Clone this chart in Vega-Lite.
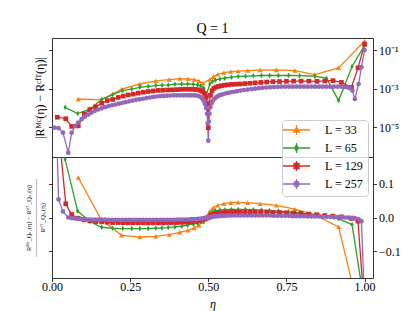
{
"$schema": "https://vega.github.io/schema/vega-lite/v6.json",
"background": "white",
"padding": {"left": 24, "top": 21, "right": 5, "bottom": 5},
"config": {
 "font": "Liberation Serif",
 "view": {"stroke": "#333", "strokeWidth": 1},
 "axis": {"domain": false, "grid": false, "tickColor": "#000", "tickWidth": 0.8, "tickSize": 3.5, "labelFontSize": 12, "labelColor": "#000", "labelFont": "Liberation Serif", "titleFont": "Liberation Serif", "titleFontWeight": "normal", "titleColor": "#000"},
 "legend": {"orient": "none", "legendX": 230, "legendY": 82, "title": null, "fillColor": "rgba(255,255,255,0.8)", "strokeColor": "#cccccc", "cornerRadius": 3, "padding": 4, "symbolSize": 100, "symbolStrokeWidth": 1.3, "symbolOpacity": 1, "labelFont": "Liberation Serif", "labelFontSize": 12, "labelColor": "#000", "labelOffset": 27, "rowPadding": 2}
},
"datasets": {"d": [
{"L":"L = 33","e":0.084,"a":2.9e-4,"r":0.119},
{"L":"L = 33","e":0.157,"a":2.6e-4,"r":-0.006},
{"L":"L = 33","e":0.223,"a":9.5e-4,"r":-0.053},
{"L":"L = 33","e":0.281,"a":1.74e-3,"r":-0.058},
{"L":"L = 33","e":0.332,"a":2.5e-3,"r":-0.056},
{"L":"L = 33","e":0.375,"a":2.95e-3,"r":-0.051},
{"L":"L = 33","e":0.409,"a":3.3e-3,"r":-0.044},
{"L":"L = 33","e":0.435,"a":3.2e-3,"r":-0.038},
{"L":"L = 33","e":0.455,"a":2.95e-3,"r":-0.031},
{"L":"L = 33","e":0.470,"a":2.5e-3,"r":-0.023},
{"L":"L = 33","e":0.483,"a":1.9e-3,"r":-0.013},
{"L":"L = 33","e":0.505,"a":3.0e-3,"r":0.019},
{"L":"L = 33","e":0.516,"a":4.1e-3,"r":0.029},
{"L":"L = 33","e":0.530,"a":5.5e-3,"r":0.036},
{"L":"L = 33","e":0.550,"a":6.8e-3,"r":0.041},
{"L":"L = 33","e":0.572,"a":7.6e-3,"r":0.044},
{"L":"L = 33","e":0.595,"a":8.1e-3,"r":0.045},
{"L":"L = 33","e":0.626,"a":8.7e-3,"r":0.044},
{"L":"L = 33","e":0.666,"a":9.2e-3,"r":0.041},
{"L":"L = 33","e":0.718,"a":9.3e-3,"r":0.036},
{"L":"L = 33","e":0.777,"a":8.7e-3,"r":0.025},
{"L":"L = 33","e":0.841,"a":5.4e-3,"r":0.008},
{"L":"L = 33","e":0.917,"a":0.012,"r":-0.028},
{"L":"L = 33","e":1.0,"a":0.295,"r":-0.35},
{"L":"L = 65","e":0.042,"a":1.07e-4,"r":0.173},
{"L":"L = 65","e":0.082,"a":5.1e-5,"r":0.019},
{"L":"L = 65","e":0.121,"a":8.7e-5,"r":-0.012},
{"L":"L = 65","e":0.159,"a":2.7e-4,"r":-0.029},
{"L":"L = 65","e":0.194,"a":4.9e-4,"r":-0.032},
{"L":"L = 65","e":0.226,"a":7.9e-4,"r":-0.033},
{"L":"L = 65","e":0.255,"a":9.5e-4,"r":-0.033},
{"L":"L = 65","e":0.281,"a":1.17e-3,"r":-0.033},
{"L":"L = 65","e":0.308,"a":1.32e-3,"r":-0.033},
{"L":"L = 65","e":0.332,"a":1.45e-3,"r":-0.032},
{"L":"L = 65","e":0.352,"a":1.51e-3,"r":-0.031},
{"L":"L = 65","e":0.372,"a":1.55e-3,"r":-0.030},
{"L":"L = 65","e":0.393,"a":1.7e-3,"r":-0.028},
{"L":"L = 65","e":0.415,"a":1.74e-3,"r":-0.026},
{"L":"L = 65","e":0.434,"a":1.74e-3,"r":-0.023},
{"L":"L = 65","e":0.452,"a":1.7e-3,"r":-0.020},
{"L":"L = 65","e":0.466,"a":1.55e-3,"r":-0.017},
{"L":"L = 65","e":0.476,"a":1.38e-3,"r":-0.013},
{"L":"L = 65","e":0.486,"a":1.05e-3,"r":-0.009},
{"L":"L = 65","e":0.494,"a":5.0e-4,"r":-0.004},
{"L":"L = 65","e":0.505,"a":1.74e-3,"r":0.012},
{"L":"L = 65","e":0.514,"a":2.34e-3,"r":0.017},
{"L":"L = 65","e":0.523,"a":2.8e-3,"r":0.020},
{"L":"L = 65","e":0.537,"a":3.2e-3,"r":0.022},
{"L":"L = 65","e":0.553,"a":3.5e-3,"r":0.023},
{"L":"L = 65","e":0.574,"a":3.9e-3,"r":0.024},
{"L":"L = 65","e":0.596,"a":4.3e-3,"r":0.024},
{"L":"L = 65","e":0.619,"a":4.4e-3,"r":0.024},
{"L":"L = 65","e":0.644,"a":4.6e-3,"r":0.023},
{"L":"L = 65","e":0.670,"a":4.8e-3,"r":0.022},
{"L":"L = 65","e":0.696,"a":4.8e-3,"r":0.021},
{"L":"L = 65","e":0.724,"a":4.8e-3,"r":0.019},
{"L":"L = 65","e":0.757,"a":4.8e-3,"r":0.017},
{"L":"L = 65","e":0.792,"a":4.7e-3,"r":0.014},
{"L":"L = 65","e":0.841,"a":4.4e-3,"r":0.008},
{"L":"L = 65","e":0.878,"a":3.5e-3,"r":0.003},
{"L":"L = 65","e":0.917,"a":2.4e-4,"r":-0.004},
{"L":"L = 65","e":0.960,"a":0.014,"r":-0.021},
{"L":"L = 65","e":1.0,"a":0.176,"r":-0.26},
{"L":"L = 129","e":0.017,"a":3.3e-5,"r":0.30},
{"L":"L = 129","e":0.044,"a":2.75e-5,"r":0.041},
{"L":"L = 129","e":0.063,"a":1.1e-5,"r":0.009},
{"L":"L = 129","e":0.084,"a":1.17e-5,"r":-0.002},
{"L":"L = 129","e":0.103,"a":4.8e-5,"r":-0.007},
{"L":"L = 129","e":0.121,"a":8.1e-5,"r":-0.010},
{"L":"L = 129","e":0.140,"a":1.15e-4,"r":-0.012},
{"L":"L = 129","e":0.159,"a":1.74e-4,"r":-0.013},
{"L":"L = 129","e":0.177,"a":2.4e-4,"r":-0.014},
{"L":"L = 129","e":0.194,"a":2.75e-4,"r":-0.015},
{"L":"L = 129","e":0.212,"a":3.5e-4,"r":-0.015},
{"L":"L = 129","e":0.228,"a":4.1e-4,"r":-0.016},
{"L":"L = 129","e":0.244,"a":4.7e-4,"r":-0.016},
{"L":"L = 129","e":0.260,"a":5.2e-4,"r":-0.016},
{"L":"L = 129","e":0.276,"a":5.9e-4,"r":-0.016},
{"L":"L = 129","e":0.292,"a":6.5e-4,"r":-0.016},
{"L":"L = 129","e":0.308,"a":7.1e-4,"r":-0.016},
{"L":"L = 129","e":0.324,"a":7.6e-4,"r":-0.016},
{"L":"L = 129","e":0.340,"a":8.1e-4,"r":-0.016},
{"L":"L = 129","e":0.355,"a":8.3e-4,"r":-0.016},
{"L":"L = 129","e":0.370,"a":8.5e-4,"r":-0.015},
{"L":"L = 129","e":0.385,"a":8.7e-4,"r":-0.015},
{"L":"L = 129","e":0.399,"a":8.9e-4,"r":-0.015},
{"L":"L = 129","e":0.412,"a":9.1e-4,"r":-0.014},
{"L":"L = 129","e":0.425,"a":9.3e-4,"r":-0.014},
{"L":"L = 129","e":0.437,"a":9.3e-4,"r":-0.013},
{"L":"L = 129","e":0.448,"a":9.3e-4,"r":-0.012},
{"L":"L = 129","e":0.458,"a":9.1e-4,"r":-0.011},
{"L":"L = 129","e":0.467,"a":8.7e-4,"r":-0.010},
{"L":"L = 129","e":0.475,"a":8.1e-4,"r":-0.008},
{"L":"L = 129","e":0.482,"a":7.1e-4,"r":-0.007},
{"L":"L = 129","e":0.488,"a":5.6e-4,"r":-0.005},
{"L":"L = 129","e":0.493,"a":3.5e-4,"r":-0.003},
{"L":"L = 129","e":0.497,"a":1.6e-4,"r":-0.001},
{"L":"L = 129","e":0.500,"a":9.5e-6,"r":0.0},
{"L":"L = 129","e":0.503,"a":1.8e-4,"r":0.002},
{"L":"L = 129","e":0.507,"a":4.5e-4,"r":0.005},
{"L":"L = 129","e":0.512,"a":7.9e-4,"r":0.008},
{"L":"L = 129","e":0.518,"a":1.05e-3,"r":0.010},
{"L":"L = 129","e":0.525,"a":1.2e-3,"r":0.012},
{"L":"L = 129","e":0.533,"a":1.32e-3,"r":0.013},
{"L":"L = 129","e":0.542,"a":1.41e-3,"r":0.014},
{"L":"L = 129","e":0.552,"a":1.51e-3,"r":0.015},
{"L":"L = 129","e":0.563,"a":1.58e-3,"r":0.015},
{"L":"L = 129","e":0.575,"a":1.66e-3,"r":0.016},
{"L":"L = 129","e":0.588,"a":1.7e-3,"r":0.016},
{"L":"L = 129","e":0.602,"a":1.74e-3,"r":0.016},
{"L":"L = 129","e":0.617,"a":1.82e-3,"r":0.016},
{"L":"L = 129","e":0.633,"a":1.9e-3,"r":0.016},
{"L":"L = 129","e":0.650,"a":2.0e-3,"r":0.016},
{"L":"L = 129","e":0.668,"a":2.1e-3,"r":0.016},
{"L":"L = 129","e":0.687,"a":2.2e-3,"r":0.016},
{"L":"L = 129","e":0.707,"a":2.3e-3,"r":0.015},
{"L":"L = 129","e":0.728,"a":2.34e-3,"r":0.015},
{"L":"L = 129","e":0.750,"a":2.4e-3,"r":0.014},
{"L":"L = 129","e":0.773,"a":2.45e-3,"r":0.013},
{"L":"L = 129","e":0.797,"a":2.45e-3,"r":0.012},
{"L":"L = 129","e":0.822,"a":2.45e-3,"r":0.010},
{"L":"L = 129","e":0.848,"a":2.4e-3,"r":0.008},
{"L":"L = 129","e":0.873,"a":2.5e-3,"r":0.006},
{"L":"L = 129","e":0.899,"a":2.6e-3,"r":0.004},
{"L":"L = 129","e":0.926,"a":2.1e-3,"r":0.002},
{"L":"L = 129","e":0.958,"a":1.17e-3,"r":-0.003},
{"L":"L = 129","e":0.979,"a":0.012,"r":-0.011},
{"L":"L = 129","e":1.0,"a":0.2,"r":-0.28},
{"L":"L = 257","e":0.008,"a":9.5e-6,"r":0.5},
{"L":"L = 257","e":0.021,"a":8.9e-6,"r":0.054},
{"L":"L = 257","e":0.035,"a":5.2e-6,"r":0.018},
{"L":"L = 257","e":0.052,"a":4.8e-7,"r":0.0},
{"L":"L = 257","e":0.063,"a":5.2e-6,"r":-0.002},
{"L":"L = 257","e":0.074,"a":1.17e-5,"r":-0.003},
{"L":"L = 257","e":0.084,"a":1.74e-5,"r":-0.004},
{"L":"L = 257","e":0.095,"a":2.6e-5,"r":-0.005},
{"L":"L = 257","e":0.105,"a":3.5e-5,"r":-0.005},
{"L":"L = 257","e":0.116,"a":4.5e-5,"r":-0.006},
{"L":"L = 257","e":0.126,"a":5.6e-5,"r":-0.006},
{"L":"L = 257","e":0.137,"a":7.1e-5,"r":-0.006},
{"L":"L = 257","e":0.148,"a":8.3e-5,"r":-0.006},
{"L":"L = 257","e":0.159,"a":9.5e-5,"r":-0.006},
{"L":"L = 257","e":0.170,"a":1.1e-4,"r":-0.006},
{"L":"L = 257","e":0.181,"a":1.23e-4,"r":-0.007},
{"L":"L = 257","e":0.192,"a":1.38e-4,"r":-0.007},
{"L":"L = 257","e":0.203,"a":1.51e-4,"r":-0.007},
{"L":"L = 257","e":0.214,"a":1.66e-4,"r":-0.007},
{"L":"L = 257","e":0.225,"a":1.82e-4,"r":-0.007},
{"L":"L = 257","e":0.236,"a":2.0e-4,"r":-0.007},
{"L":"L = 257","e":0.247,"a":2.2e-4,"r":-0.007},
{"L":"L = 257","e":0.258,"a":2.4e-4,"r":-0.007},
{"L":"L = 257","e":0.269,"a":2.63e-4,"r":-0.007},
{"L":"L = 257","e":0.280,"a":2.8e-4,"r":-0.007},
{"L":"L = 257","e":0.291,"a":3.0e-4,"r":-0.007},
{"L":"L = 257","e":0.302,"a":3.24e-4,"r":-0.007},
{"L":"L = 257","e":0.313,"a":3.47e-4,"r":-0.007},
{"L":"L = 257","e":0.324,"a":3.7e-4,"r":-0.007},
{"L":"L = 257","e":0.335,"a":3.9e-4,"r":-0.007},
{"L":"L = 257","e":0.346,"a":4.1e-4,"r":-0.007},
{"L":"L = 257","e":0.357,"a":4.2e-4,"r":-0.007},
{"L":"L = 257","e":0.368,"a":4.3e-4,"r":-0.007},
{"L":"L = 257","e":0.379,"a":4.4e-4,"r":-0.007},
{"L":"L = 257","e":0.390,"a":4.5e-4,"r":-0.007},
{"L":"L = 257","e":0.400,"a":4.5e-4,"r":-0.006},
{"L":"L = 257","e":0.410,"a":4.5e-4,"r":-0.006},
{"L":"L = 257","e":0.420,"a":4.5e-4,"r":-0.006},
{"L":"L = 257","e":0.429,"a":4.5e-4,"r":-0.006},
{"L":"L = 257","e":0.438,"a":4.5e-4,"r":-0.006},
{"L":"L = 257","e":0.446,"a":4.5e-4,"r":-0.005},
{"L":"L = 257","e":0.454,"a":4.5e-4,"r":-0.005},
{"L":"L = 257","e":0.461,"a":4.4e-4,"r":-0.005},
{"L":"L = 257","e":0.468,"a":4.2e-4,"r":-0.004},
{"L":"L = 257","e":0.474,"a":3.8e-4,"r":-0.004},
{"L":"L = 257","e":0.480,"a":3.2e-4,"r":-0.003},
{"L":"L = 257","e":0.485,"a":2.4e-4,"r":-0.002},
{"L":"L = 257","e":0.489,"a":1.66e-4,"r":-0.002},
{"L":"L = 257","e":0.493,"a":1.0e-4,"r":-0.001},
{"L":"L = 257","e":0.496,"a":5.0e-5,"r":-0.001},
{"L":"L = 257","e":0.498,"a":1.6e-5,"r":0.0},
{"L":"L = 257","e":0.500,"a":2.0e-6,"r":0.0},
{"L":"L = 257","e":0.502,"a":2.0e-5,"r":0.0},
{"L":"L = 257","e":0.504,"a":5.0e-5,"r":0.001},
{"L":"L = 257","e":0.507,"a":1.12e-4,"r":0.001},
{"L":"L = 257","e":0.511,"a":1.78e-4,"r":0.002},
{"L":"L = 257","e":0.515,"a":2.4e-4,"r":0.003},
{"L":"L = 257","e":0.520,"a":3.0e-4,"r":0.003},
{"L":"L = 257","e":0.526,"a":3.6e-4,"r":0.004},
{"L":"L = 257","e":0.532,"a":4.2e-4,"r":0.004},
{"L":"L = 257","e":0.539,"a":4.7e-4,"r":0.005},
{"L":"L = 257","e":0.546,"a":5.1e-4,"r":0.005},
{"L":"L = 257","e":0.554,"a":5.6e-4,"r":0.005},
{"L":"L = 257","e":0.563,"a":6.0e-4,"r":0.006},
{"L":"L = 257","e":0.572,"a":6.5e-4,"r":0.006},
{"L":"L = 257","e":0.582,"a":6.9e-4,"r":0.006},
{"L":"L = 257","e":0.592,"a":7.4e-4,"r":0.006},
{"L":"L = 257","e":0.603,"a":7.9e-4,"r":0.006},
{"L":"L = 257","e":0.614,"a":8.5e-4,"r":0.006},
{"L":"L = 257","e":0.626,"a":8.9e-4,"r":0.006},
{"L":"L = 257","e":0.638,"a":9.5e-4,"r":0.006},
{"L":"L = 257","e":0.650,"a":1.0e-3,"r":0.006},
{"L":"L = 257","e":0.662,"a":1.05e-3,"r":0.006},
{"L":"L = 257","e":0.674,"a":1.1e-3,"r":0.006},
{"L":"L = 257","e":0.686,"a":1.15e-3,"r":0.006},
{"L":"L = 257","e":0.698,"a":1.17e-3,"r":0.006},
{"L":"L = 257","e":0.710,"a":1.2e-3,"r":0.005},
{"L":"L = 257","e":0.722,"a":1.23e-3,"r":0.005},
{"L":"L = 257","e":0.734,"a":1.26e-3,"r":0.005},
{"L":"L = 257","e":0.746,"a":1.26e-3,"r":0.005},
{"L":"L = 257","e":0.758,"a":1.26e-3,"r":0.005},
{"L":"L = 257","e":0.770,"a":1.26e-3,"r":0.004},
{"L":"L = 257","e":0.782,"a":1.26e-3,"r":0.004},
{"L":"L = 257","e":0.794,"a":1.26e-3,"r":0.004},
{"L":"L = 257","e":0.806,"a":1.26e-3,"r":0.004},
{"L":"L = 257","e":0.818,"a":1.26e-3,"r":0.003},
{"L":"L = 257","e":0.830,"a":1.26e-3,"r":0.003},
{"L":"L = 257","e":0.842,"a":1.26e-3,"r":0.003},
{"L":"L = 257","e":0.854,"a":1.26e-3,"r":0.003},
{"L":"L = 257","e":0.866,"a":1.26e-3,"r":0.002},
{"L":"L = 257","e":0.878,"a":1.26e-3,"r":0.002},
{"L":"L = 257","e":0.890,"a":1.26e-3,"r":0.002},
{"L":"L = 257","e":0.902,"a":1.26e-3,"r":0.001},
{"L":"L = 257","e":0.914,"a":1.26e-3,"r":0.001},
{"L":"L = 257","e":0.926,"a":1.26e-3,"r":0.001},
{"L":"L = 257","e":0.937,"a":1.23e-3,"r":0.0},
{"L":"L = 257","e":0.947,"a":1.15e-3,"r":0.0},
{"L":"L = 257","e":0.953,"a":1.07e-3,"r":-0.001},
{"L":"L = 257","e":0.961,"a":7.9e-4,"r":-0.001},
{"L":"L = 257","e":0.969,"a":2.9e-4,"r":-0.002},
{"L":"L = 257","e":0.981,"a":1.74e-3,"r":-0.005},
{"L":"L = 257","e":0.990,"a":0.013,"r":-0.011},
{"L":"L = 257","e":1.0,"a":0.1,"r":-0.25}
]},
"data": {"name": "d"},
"spacing": 0,
"bounds": "flush",
"resolve": {"scale": {"x": "shared", "y": "independent", "color": "shared", "shape": "shared"}},
"vconcat": [
 {
  "width": 321, "height": 119,
  "title": {"text": "Q = 1", "frame": "group", "anchor": "middle", "fontSize": 14, "fontWeight": "normal", "font": "Liberation Serif", "offset": 2, "color": "#000"},
  "encoding": {
   "x": {"field": "e", "type": "quantitative", "scale": {"domain": [0, 1.027], "nice": false, "zero": false}, "axis": null},
   "y": {"field": "a", "type": "quantitative", "scale": {"type": "log", "domain": [2.85e-7, 0.423], "nice": false}}
  },
  "layer": [
   {"mark": {"type": "line", "strokeWidth": 1.3, "clip": true},
    "encoding": {
     "y": {"field": "a", "type": "quantitative", "axis": {"orient": "left", "values": [1e-5, 1e-3, 1e-1], "labels": false, "title": "|Rᴹᶜ(η) − Rᶜᶠᵀ(η)|", "titleFontSize": 12, "titlePadding": 2}},
     "color": {"field": "L", "type": "nominal", "scale": {"domain": ["L = 33", "L = 65", "L = 129", "L = 257"], "range": ["#ff7f0e", "#2ca02c", "#d62728", "#9467bd"]}}
    }
   },
   {"transform": [{"filter": "datum.L == 'L = 33'"}],
    "mark": {"type": "point", "filled": true, "shape": "triangle-up", "color": "#ff7f0e", "size": 26, "opacity": 1, "clip": true},
    "encoding": {"y": {"field": "a", "type": "quantitative", "axis": {"orient": "right", "values": [1e-5, 1e-3, 1e-1], "title": null, "labelPadding": 2, "labelExpr": "datum.value > 0.01 ? '10⁻¹' : datum.value > 0.0001 ? '10⁻³' : '10⁻⁵'"}}}
   },
   {"transform": [{"filter": "datum.L == 'L = 65'"}],
    "mark": {"type": "point", "filled": true, "shape": "M0,-1L0.6,0L0,1L-0.6,0Z", "color": "#2ca02c", "size": 30, "opacity": 1, "clip": true},
    "encoding": {"y": {"field": "a", "type": "quantitative", "axis": null}}
   },
   {"transform": [{"filter": "datum.L == 'L = 129'"}],
    "mark": {"type": "point", "filled": true, "shape": "square", "color": "#d62728", "size": 22, "opacity": 1, "clip": true},
    "encoding": {"y": {"field": "a", "type": "quantitative", "axis": null}}
   },
   {"transform": [{"filter": "datum.L == 'L = 257'"}],
    "mark": {"type": "point", "filled": true, "shape": "circle", "color": "#9467bd", "size": 22, "opacity": 1, "clip": true},
    "encoding": {"y": {"field": "a", "type": "quantitative", "axis": null}}
   },
   {"mark": {"type": "point", "filled": false, "strokeWidth": 1.3, "opacity": 0, "size": 1, "clip": true},
    "encoding": {
     "y": {"field": "a", "type": "quantitative", "axis": null},
     "color": {"field": "L", "type": "nominal"},
     "shape": {"field": "L", "type": "nominal", "scale": {"domain": ["L = 33", "L = 65", "L = 129", "L = 257"], "range": [
       "M-1.8,0H3.6M0.9,-1V1M0.9,-0.55L1.45,0.4L0.35,0.4ZM0.9,-0.2L1.15,0.25L0.65,0.25Z",
       "M-1.8,0H3.6M0.9,-1V1M0.9,-0.65L1.25,0L0.9,0.65L0.55,0Z",
       "M-1.8,0H3.6M0.9,-1V1M0.4,-0.5H1.4V0.5H0.4ZM0.7,-0.2H1.1V0.2H0.7Z",
       "M-1.8,0H3.6M0.9,-1V1M1.4,0A0.5,0.5 0 1,1 0.4,0A0.5,0.5 0 1,1 1.4,0ZM1.1,0A0.2,0.2 0 1,1 0.7,0A0.2,0.2 0 1,1 1.1,0Z"]}}
    }
   }
  ],
  "resolve": {"axis": {"y": "independent"}}
 },
 {
  "width": 321, "height": 121,
  "encoding": {
   "x": {"field": "e", "type": "quantitative", "scale": {"domain": [0, 1.027], "nice": false, "zero": false}, "axis": {"values": [0, 0.25, 0.5, 0.75, 1], "format": ".2f", "labelFlush": false, "title": "η", "titleFontStyle": "italic", "titleFontSize": 12, "labelPadding": 0, "titlePadding": 6}},
   "y": {"field": "r", "type": "quantitative", "scale": {"domain": [-0.18, 0.18], "nice": false, "zero": false}}
  },
  "layer": [
   {"mark": {"type": "line", "strokeWidth": 1.3, "clip": true},
    "encoding": {
     "y": {"field": "r", "type": "quantitative", "axis": {"orient": "left", "values": [-0.1, 0, 0.1], "labels": false, "title": ["Rᴹᶜ_Q₌₁(η) − Rᶜᶠᵀ_Q₌₁(η)", "――――――――――――", "Rᶜᶠᵀ_Q₌₁(η)"], "titleFontSize": 6.5, "titleLineHeight": 7, "titlePadding": 3}},
     "color": {"field": "L", "type": "nominal"}
    }
   },
   {"transform": [{"filter": "datum.L == 'L = 33'"}],
    "mark": {"type": "point", "filled": true, "shape": "triangle-up", "color": "#ff7f0e", "size": 26, "opacity": 1, "clip": true},
    "encoding": {"y": {"field": "r", "type": "quantitative", "axis": {"orient": "right", "values": [-0.1, 0, 0.1], "format": ".1f", "title": null, "labelPadding": 2}}}
   },
   {"transform": [{"filter": "datum.L == 'L = 65'"}],
    "mark": {"type": "point", "filled": true, "shape": "M0,-1L0.6,0L0,1L-0.6,0Z", "color": "#2ca02c", "size": 30, "opacity": 1, "clip": true},
    "encoding": {"y": {"field": "r", "type": "quantitative", "axis": null}}
   },
   {"transform": [{"filter": "datum.L == 'L = 129'"}],
    "mark": {"type": "point", "filled": true, "shape": "square", "color": "#d62728", "size": 22, "opacity": 1, "clip": true},
    "encoding": {"y": {"field": "r", "type": "quantitative", "axis": null}}
   },
   {"transform": [{"filter": "datum.L == 'L = 257'"}],
    "mark": {"type": "point", "filled": true, "shape": "circle", "color": "#9467bd", "size": 22, "opacity": 1, "clip": true},
    "encoding": {"y": {"field": "r", "type": "quantitative", "axis": null}}
   }
  ],
  "resolve": {"axis": {"y": "independent"}}
 }
]
}
